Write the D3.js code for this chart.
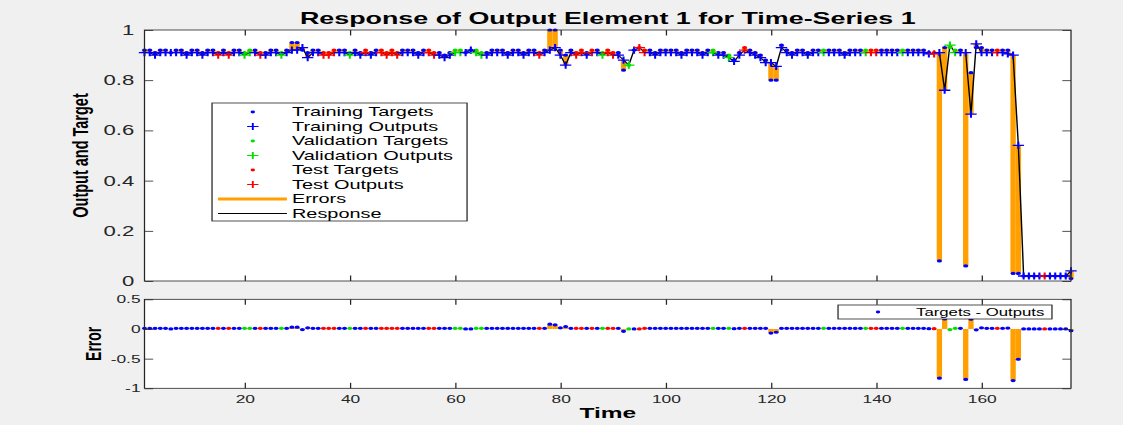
<!DOCTYPE html>
<html>
<head>
<meta charset="utf-8">
<script src="https://cdn.jsdelivr.net/npm/d3@7"></script>
<style>
  body { margin: 0; background: #f0f0f0; }
  text { font-family: "Liberation Sans", Arial, sans-serif; }
</style>
</head>
<body>
<div id="chart"></div>
<script>
// time steps 1..177
const targets = [
  0.92,0.92,0.91,0.92,0.92,0.91,0.92,0.92,0.91,0.92,
  0.92,0.91,0.92,0.92,0.91,0.92,0.91,0.92,0.92,0.91,
  0.92,0.92,0.91,0.91,0.92,0.92,0.91,0.92,0.95,0.95,
  0.92,0.91,0.92,0.92,0.91,0.91,0.92,0.92,0.92,0.91,
  0.92,0.91,0.92,0.91,0.92,0.92,0.91,0.92,0.91,0.92,
  0.92,0.92,0.91,0.92,0.92,0.91,0.91,0.90,0.91,0.92,
  0.92,0.91,0.92,0.92,0.91,0.91,0.92,0.92,0.92,0.91,
  0.92,0.92,0.91,0.92,0.92,0.91,0.92,1.00,1.00,0.92,
  0.90,0.92,0.91,0.92,0.91,0.92,0.92,0.91,0.92,0.91,
  0.91,0.84,0.86,0.92,0.93,0.92,0.92,0.91,0.92,0.92,
  0.92,0.92,0.91,0.92,0.92,0.92,0.91,0.92,0.92,0.91,
  0.91,0.90,0.88,0.91,0.93,0.92,0.91,0.90,0.88,0.80,
  0.80,0.94,0.92,0.91,0.92,0.92,0.91,0.92,0.92,0.92,
  0.92,0.92,0.92,0.91,0.92,0.92,0.92,0.92,0.92,0.92,
  0.92,0.92,0.92,0.92,0.92,0.92,0.92,0.92,0.92,0.91,
  0.91,0.08,0.93,0.93,0.92,0.92,0.06,0.83,0.93,0.93,
  0.92,0.92,0.92,0.92,0.92,0.03,0.03,0.02,0.02,0.02,
  0.02,0.02,0.02,0.02,0.02,0.02,0.01
];

const outputs = [
  0.91,0.91,0.90,0.91,0.91,0.91,0.91,0.91,0.90,0.91,
  0.91,0.90,0.91,0.91,0.90,0.91,0.90,0.91,0.91,0.90,
  0.91,0.91,0.90,0.90,0.91,0.91,0.90,0.91,0.92,0.92,
  0.93,0.89,0.91,0.91,0.90,0.90,0.91,0.91,0.91,0.90,
  0.91,0.90,0.91,0.90,0.91,0.91,0.90,0.91,0.90,0.91,
  0.91,0.91,0.90,0.91,0.91,0.90,0.90,0.89,0.90,0.91,
  0.91,0.91,0.92,0.91,0.90,0.90,0.91,0.91,0.91,0.90,
  0.91,0.91,0.90,0.91,0.91,0.90,0.91,0.92,0.93,0.90,
  0.86,0.91,0.90,0.91,0.90,0.91,0.91,0.90,0.91,0.90,
  0.90,0.88,0.86,0.92,0.93,0.91,0.91,0.90,0.91,0.91,
  0.91,0.91,0.90,0.91,0.91,0.91,0.90,0.91,0.91,0.90,
  0.90,0.89,0.875,0.90,0.92,0.91,0.90,0.89,0.87,0.87,
  0.855,0.93,0.91,0.90,0.91,0.91,0.90,0.91,0.91,0.91,
  0.91,0.91,0.91,0.90,0.91,0.91,0.91,0.91,0.91,0.91,
  0.91,0.91,0.91,0.91,0.91,0.91,0.91,0.91,0.91,0.905,
  0.905,0.91,0.76,0.94,0.91,0.91,0.91,0.665,0.945,0.91,
  0.91,0.91,0.91,0.91,0.905,0.90,0.54,0.02,0.02,0.02,
  0.02,0.02,0.02,0.02,0.02,0.02,0.04
];

// b = training, g = validation, r = test
const sets = [
  "bbbbbbbbbb","bbbbrbrbbg","gbrbbbgbbb","bbbbrrrbbg","bbrbbrrrrb",
  "bbbbrrbbbg","gbbggbbbbb","bbbbbrbbbb","bbrrbrbgrr","bbgbrrbbbb",
  "bbbbbbbbgb","bgbbrbbbbb","bbbbbbbbbg","bbbbbbbgrr","bbbbgbbbbb",
  "rbbggbbbbb","bbrbbbbbbb","brbbbbb"
].join("").split("");

const xTicks = [20, 40, 60, 80, 100, 120, 140, 160];
const yTicksTop = [0, 0.2, 0.4, 0.6, 0.8, 1];
const yTicksBottom = [-1, -0.5, 0, 0.5];

const legendItems = [
  { label: "Training Targets", kind: "dot", set: "b" },
  { label: "Training Outputs", kind: "plus", set: "b" },
  { label: "Validation Targets", kind: "dot", set: "g" },
  { label: "Validation Outputs", kind: "plus", set: "g" },
  { label: "Test Targets", kind: "dot", set: "r" },
  { label: "Test Outputs", kind: "plus", set: "r" },
  { label: "Errors", kind: "err" },
  { label: "Response", kind: "line" }
];

const setColor = { b: "#0000ff", g: "#00e000", r: "#ff0000" };
const errColor = "#ffa000";
const axisColor = "#262626";

// the figure is stretched horizontally, so draw in narrow units and scale x
const SX = 1.58;
const W = 1123, H = 425;

const svg = d3.select("#chart").append("svg")
  .attr("width", W).attr("height", H)
  .style("display", "block")
  .style("background", "#f0f0f0");

const root = svg.append("g").attr("transform", `scale(${SX},1)`);

const x = d3.scaleLinear().domain([1, 177]).range([144.5 / SX, 1071 / SX]);
const yTop = d3.scaleLinear().domain([0, 1]).range([281, 30]);
const yBot = d3.scaleLinear().domain([-1, 0.5]).range([388.3, 299.3]);

const pts = targets.map((t, i) => ({
  t: i + 1, target: t, output: outputs[i], set: sets[i], err: t - outputs[i]
}));

const plusPath = "M-3.6,0H3.6M0,-3.6V3.6";

// axes frames
function frame(y) {
  const [y0, y1] = y.range();
  const [x0, x1] = x.range();
  root.append("rect")
    .attr("x", x0).attr("y", y1)
    .attr("width", x1 - x0).attr("height", y0 - y1)
    .attr("fill", "#fff");
}

function axes(y, yTicks, opts) {
  const [y0, y1] = y.range();
  const [x0, x1] = x.range();
  const tl = 5.5;

  const bottom = root.append("g").attr("transform", `translate(0,${y0})`)
    .call(d3.axisBottom(x).tickValues(xTicks).tickSize(-tl).tickPadding(opts.xPad)
      .tickFormat(opts.xLabels ? d => d : ""));
  const top = root.append("g").attr("transform", `translate(0,${y1})`)
    .call(d3.axisTop(x).tickValues(xTicks).tickSize(-tl).tickFormat(""));
  const left = root.append("g").attr("transform", `translate(${x0},0)`)
    .call(d3.axisLeft(y).tickValues(yTicks).tickSize(-tl).tickPadding(opts.yPad)
      .tickFormat(d => String(d)));
  const right = root.append("g").attr("transform", `translate(${x1},0)`)
    .call(d3.axisRight(y).tickValues(yTicks).tickSize(-tl).tickFormat(""));

  [bottom, top, left, right].forEach(g => {
    g.select(".domain").remove();
    g.selectAll("line").attr("stroke", axisColor).attr("stroke-width", 0.8);
    g.selectAll("text").attr("fill", axisColor).attr("font-size", opts.fs + "px")
      .style("font-family", '"Liberation Sans", Arial, sans-serif');
  });

  root.append("rect")
    .attr("x", x0).attr("y", y1)
    .attr("width", x1 - x0).attr("height", y0 - y1)
    .attr("fill", "none").attr("stroke", axisColor).attr("stroke-width", 0.8);
}

// ---- top plot
frame(yTop);
const gTop = root.append("g");

gTop.selectAll("line.err").data(pts).join("line")
  .attr("class", "err")
  .attr("x1", d => x(d.t)).attr("x2", d => x(d.t))
  .attr("y1", d => yTop(d.target)).attr("y2", d => yTop(d.output))
  .attr("stroke", errColor).attr("stroke-width", 3.4);

gTop.append("path").datum(pts)
  .attr("d", d3.line().x(d => x(d.t)).y(d => yTop(d.output)))
  .attr("fill", "none").attr("stroke", "#000").attr("stroke-width", 0.9);

gTop.selectAll("circle").data(pts).join("circle")
  .attr("cx", d => x(d.t)).attr("cy", d => yTop(d.target))
  .attr("r", 1.6).attr("fill", d => setColor[d.set]);

gTop.selectAll("path.out").data(pts).join("path")
  .attr("class", "out")
  .attr("transform", d => `translate(${x(d.t)},${yTop(d.output)})`)
  .attr("d", plusPath)
  .attr("stroke", d => setColor[d.set]).attr("stroke-width", 1.3).attr("fill", "none");

axes(yTop, yTicksTop, { xLabels: false, xPad: 3, yPad: 6.5, fs: 14 });

// ---- bottom plot
frame(yBot);
const gBot = root.append("g");

gBot.selectAll("line.err").data(pts).join("line")
  .attr("class", "err")
  .attr("x1", d => x(d.t)).attr("x2", d => x(d.t))
  .attr("y1", yBot(0)).attr("y2", d => yBot(d.err))
  .attr("stroke", errColor).attr("stroke-width", 3.4);

gBot.selectAll("circle").data(pts).join("circle")
  .attr("cx", d => x(d.t)).attr("cy", d => yBot(d.err))
  .attr("r", 1.6).attr("fill", d => setColor[d.set]);

axes(yBot, yTicksBottom, { xLabels: true, xPad: 7, yPad: 2.5, fs: 11 });

// ---- titles and labels
root.append("text")
  .attr("x", (x.range()[0] + x.range()[1]) / 2).attr("y", 24)
  .attr("text-anchor", "middle").attr("font-size", "17px").attr("font-weight", "bold")
  .attr("fill", "#000")
  .text("Response of Output Element 1 for Time-Series 1");

root.append("text")
  .attr("transform", `translate(55.5,${(yTop.range()[0] + yTop.range()[1]) / 2}) rotate(-90)`)
  .attr("text-anchor", "middle").attr("font-size", "14.5px").attr("font-weight", "bold")
  .attr("fill", "#000")
  .text("Output and Target");

root.append("text")
  .attr("transform", `translate(64,${(yBot.range()[0] + yBot.range()[1]) / 2}) rotate(-90)`)
  .attr("text-anchor", "middle").attr("font-size", "14px").attr("font-weight", "bold")
  .attr("fill", "#000")
  .text("Error");

root.append("text")
  .attr("x", (x.range()[0] + x.range()[1]) / 2).attr("y", 418)
  .attr("text-anchor", "middle").attr("font-size", "15.5px").attr("font-weight", "bold")
  .attr("fill", "#000")
  .text("Time");

// ---- top legend
const lg = root.append("g");
lg.append("rect")
  .attr("x", 134.2).attr("y", 103).attr("width", 161.4).attr("height", 118)
  .attr("fill", "#fff").attr("stroke", axisColor).attr("stroke-width", 0.8);

const rows = lg.selectAll("g.row").data(legendItems).join("g")
  .attr("class", "row")
  .attr("transform", (d, i) => `translate(0,${112 + i * 14.5})`);

rows.filter(d => d.kind === "dot").append("circle")
  .attr("cx", 160).attr("cy", 0).attr("r", 1.4).attr("fill", d => setColor[d.set]);
rows.filter(d => d.kind === "plus").append("path")
  .attr("transform", "translate(160,0)").attr("d", plusPath)
  .attr("stroke", d => setColor[d.set]).attr("stroke-width", 1.2);
rows.filter(d => d.kind === "err").append("line")
  .attr("x1", 138).attr("x2", 181.6).attr("stroke", errColor).attr("stroke-width", 2.8);
rows.filter(d => d.kind === "line").append("line")
  .attr("x1", 138).attr("x2", 181.6).attr("stroke", "#000").attr("stroke-width", 0.9);

rows.append("text")
  .attr("x", 184.8)
  .attr("y", 4.4).attr("font-size", "12.6px").attr("fill", "#000")
  .text(d => d.label);

// ---- bottom legend
const lb = root.append("g");
lb.append("rect")
  .attr("x", 530.4).attr("y", 305).attr("width", 135.4).attr("height", 14)
  .attr("fill", "#fff").attr("stroke", axisColor).attr("stroke-width", 0.8);
lb.append("circle").attr("cx", 555.7).attr("cy", 312).attr("r", 1.4).attr("fill", setColor.b);
lb.append("text")
  .attr("x", 661).attr("y", 316).attr("text-anchor", "end")
  .attr("font-size", "10.6px").attr("fill", "#000")
  .text("Targets - Outputs");
</script>
</body>
</html>
